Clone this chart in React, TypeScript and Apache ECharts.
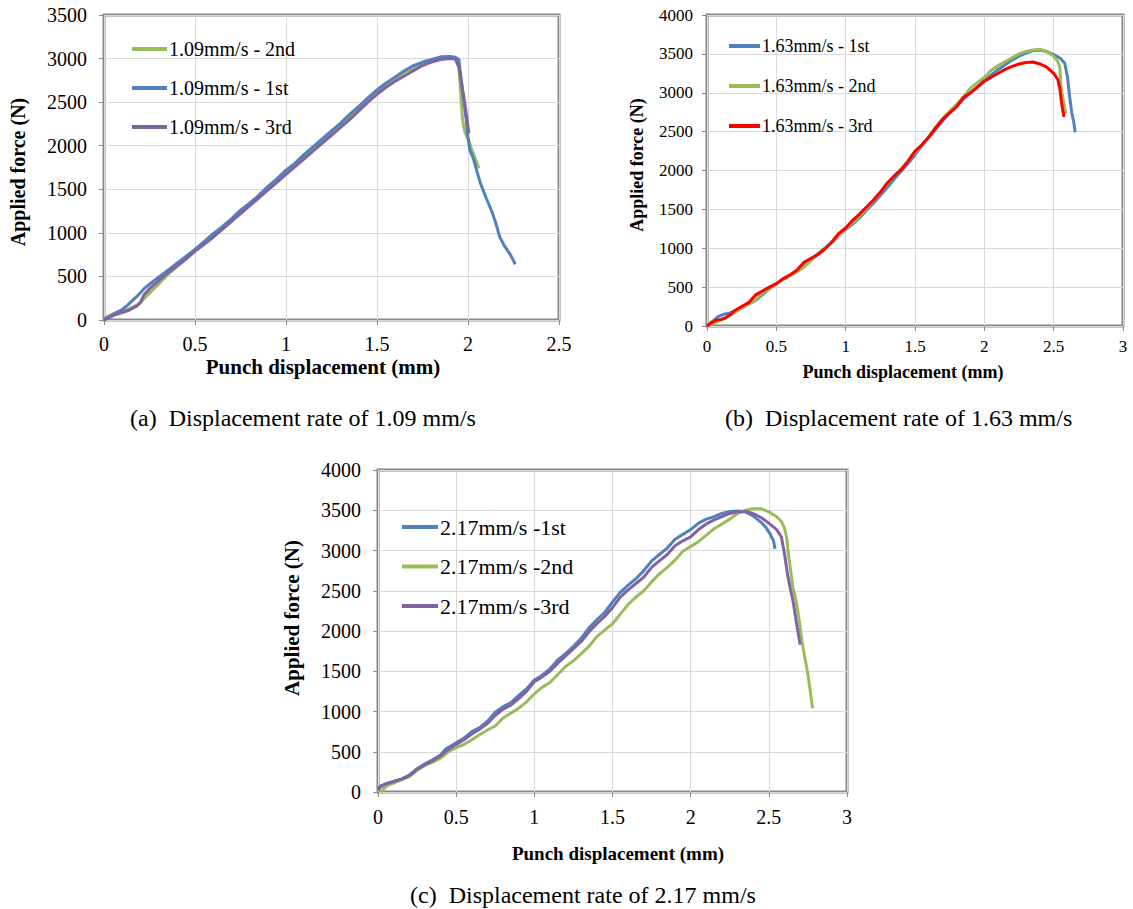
import React, { useEffect, useRef } from "react";
import * as echarts from "echarts";

// ---------- Data (x: punch displacement in mm, y: applied force in N) ----------
const xTicksA = [0, 0.5, 1, 1.5, 2, 2.5];
const xTicksBC = [0, 0.5, 1, 1.5, 2, 2.5, 3];
const yTicksA = [0, 500, 1000, 1500, 2000, 2500, 3000, 3500];
const yTicksBC = [0, 500, 1000, 1500, 2000, 2500, 3000, 3500, 4000];

// (a) 1.09 mm/s
const a2nd: number[][] = [
  [0, 20], [0.03, 50], [0.06, 75], [0.1, 100], [0.14, 130], [0.18, 170], [0.21, 220], [0.25, 310],
  [0.3, 410], [0.35, 520], [0.4, 610], [0.45, 700], [0.5, 790], [0.55, 870], [0.6, 960], [0.65, 1050],
  [0.7, 1140], [0.75, 1230], [0.8, 1330], [0.85, 1410], [0.9, 1510], [0.95, 1600], [1.0, 1690],
  [1.05, 1780], [1.1, 1870], [1.15, 1960], [1.2, 2060], [1.25, 2150], [1.3, 2240], [1.35, 2330],
  [1.4, 2430], [1.45, 2520], [1.5, 2620], [1.55, 2690], [1.6, 2770], [1.65, 2840], [1.7, 2890],
  [1.75, 2940], [1.8, 2980], [1.85, 3000], [1.9, 3010], [1.935, 3005], [1.95, 2900], [1.96, 2600],
  [1.97, 2300], [1.98, 2180], [1.99, 2120], [2.0, 2080], [2.02, 1960], [2.04, 1850], [2.06, 1740],
];
const a1st: number[][] = [
  [0, 0], [0.03, 40], [0.06, 80], [0.1, 120], [0.13, 170], [0.16, 230], [0.19, 290], [0.22, 360],
  [0.25, 410], [0.3, 490], [0.35, 570], [0.4, 650], [0.45, 730], [0.5, 810], [0.55, 900], [0.6, 990],
  [0.65, 1070], [0.7, 1160], [0.75, 1260], [0.8, 1340], [0.85, 1430], [0.9, 1530], [0.95, 1620],
  [1.0, 1720], [1.05, 1800], [1.1, 1900], [1.15, 1990], [1.2, 2080], [1.25, 2170], [1.3, 2260],
  [1.35, 2360], [1.4, 2450], [1.45, 2550], [1.5, 2640], [1.55, 2720], [1.6, 2790], [1.65, 2860],
  [1.7, 2920], [1.75, 2960], [1.8, 2990], [1.85, 3020], [1.9, 3025], [1.93, 3015], [1.95, 2990],
  [1.96, 2800], [1.975, 2550], [1.99, 2300], [2.0, 2100], [2.01, 1950], [2.03, 1850], [2.047, 1720],
  [2.07, 1560], [2.1, 1400], [2.13, 1250], [2.15, 1130], [2.175, 950], [2.2, 850], [2.23, 760], [2.26, 640],
];
const a3rd: number[][] = [
  [0, 0], [0.03, 30], [0.06, 60], [0.1, 85], [0.14, 115], [0.18, 160], [0.2, 200], [0.22, 290],
  [0.25, 360], [0.3, 450], [0.35, 540], [0.4, 620], [0.45, 700], [0.5, 790], [0.55, 870], [0.6, 950],
  [0.65, 1040], [0.7, 1130], [0.75, 1220], [0.8, 1310], [0.85, 1400], [0.9, 1490], [0.95, 1580],
  [1.0, 1670], [1.05, 1760], [1.1, 1850], [1.15, 1940], [1.2, 2030], [1.25, 2120], [1.3, 2210],
  [1.35, 2300], [1.4, 2400], [1.45, 2500], [1.5, 2590], [1.55, 2670], [1.6, 2740], [1.65, 2800],
  [1.7, 2860], [1.75, 2920], [1.8, 2960], [1.85, 2990], [1.9, 3000], [1.93, 2995], [1.95, 2900],
  [1.97, 2650], [1.985, 2450], [1.995, 2300], [2.005, 2140],
];

// (b) 1.63 mm/s
const b1st: number[][] = [
  [0, 0], [0.04, 60], [0.08, 120], [0.12, 150], [0.16, 165], [0.2, 190], [0.25, 230], [0.3, 280],
  [0.35, 330], [0.4, 400], [0.45, 480], [0.5, 540], [0.55, 600], [0.6, 650], [0.65, 700], [0.7, 770],
  [0.75, 850], [0.8, 930], [0.85, 1000], [0.9, 1080], [0.95, 1160], [1.0, 1240], [1.05, 1310],
  [1.1, 1390], [1.15, 1490], [1.2, 1580], [1.25, 1680], [1.3, 1780], [1.35, 1890], [1.4, 1990],
  [1.45, 2090], [1.5, 2200], [1.55, 2320], [1.6, 2430], [1.65, 2530], [1.7, 2640], [1.75, 2740],
  [1.8, 2830], [1.85, 2920], [1.9, 3000], [1.95, 3080], [2.0, 3160], [2.05, 3230], [2.1, 3300],
  [2.15, 3360], [2.2, 3420], [2.25, 3470], [2.3, 3510], [2.35, 3540], [2.4, 3550], [2.45, 3530],
  [2.5, 3490], [2.55, 3440], [2.58, 3380], [2.6, 3200], [2.615, 2950], [2.63, 2750], [2.645, 2620], [2.655, 2490],
];
const b2nd: number[][] = [
  [0, 0], [0.05, 30], [0.1, 75], [0.15, 120], [0.2, 175], [0.25, 230], [0.3, 280], [0.35, 340],
  [0.4, 420], [0.45, 480], [0.5, 540], [0.55, 600], [0.6, 650], [0.65, 700], [0.7, 760], [0.75, 840],
  [0.8, 920], [0.85, 1000], [0.9, 1080], [0.95, 1160], [1.0, 1250], [1.05, 1330], [1.1, 1410],
  [1.15, 1510], [1.2, 1610], [1.25, 1720], [1.3, 1830], [1.35, 1930], [1.4, 2020], [1.45, 2120],
  [1.5, 2230], [1.55, 2330], [1.6, 2440], [1.65, 2560], [1.7, 2670], [1.75, 2760], [1.8, 2850],
  [1.85, 2950], [1.9, 3060], [1.95, 3130], [2.0, 3200], [2.05, 3290], [2.1, 3350], [2.15, 3400],
  [2.2, 3450], [2.25, 3500], [2.3, 3530], [2.35, 3550], [2.4, 3560], [2.45, 3530], [2.5, 3470],
  [2.53, 3400], [2.545, 3330], [2.55, 3130], [2.56, 3000], [2.57, 2900], [2.58, 2800], [2.59, 2730],
];
const b3rd: number[][] = [
  [0, 0], [0.03, 40], [0.06, 70], [0.1, 85], [0.13, 100], [0.17, 150], [0.2, 200], [0.25, 250],
  [0.3, 300], [0.35, 400], [0.4, 450], [0.45, 500], [0.5, 545], [0.55, 610], [0.6, 660], [0.65, 720],
  [0.7, 820], [0.75, 870], [0.8, 920], [0.85, 990], [0.9, 1080], [0.95, 1190], [1.0, 1260],
  [1.05, 1360], [1.1, 1440], [1.15, 1530], [1.2, 1620], [1.25, 1720], [1.3, 1840], [1.35, 1930],
  [1.4, 2010], [1.45, 2120], [1.5, 2250], [1.55, 2330], [1.6, 2430], [1.65, 2550], [1.7, 2660],
  [1.75, 2740], [1.8, 2820], [1.85, 2940], [1.9, 3000], [1.95, 3070], [2.0, 3150], [2.05, 3200],
  [2.1, 3250], [2.15, 3300], [2.2, 3340], [2.25, 3370], [2.3, 3390], [2.35, 3395], [2.4, 3370],
  [2.45, 3330], [2.5, 3250], [2.53, 3170], [2.545, 3050], [2.555, 2900], [2.565, 2780], [2.575, 2690],
];

// (c) 2.17 mm/s
const c1st: number[][] = [
  [0, 40], [0.02, 80], [0.05, 100], [0.1, 130], [0.15, 160], [0.2, 210], [0.25, 290], [0.3, 350],
  [0.35, 400], [0.4, 460], [0.43, 530], [0.5, 610], [0.55, 670], [0.6, 750], [0.65, 800], [0.7, 880],
  [0.75, 990], [0.8, 1060], [0.85, 1110], [0.9, 1200], [0.95, 1280], [1.0, 1390], [1.05, 1450],
  [1.1, 1530], [1.15, 1640], [1.2, 1720], [1.25, 1810], [1.3, 1910], [1.35, 2040], [1.4, 2140],
  [1.45, 2230], [1.5, 2360], [1.55, 2480], [1.6, 2570], [1.65, 2650], [1.7, 2750], [1.75, 2870],
  [1.8, 2950], [1.85, 3030], [1.9, 3140], [1.95, 3200], [2.0, 3260], [2.05, 3340], [2.1, 3390],
  [2.15, 3420], [2.2, 3460], [2.25, 3485], [2.3, 3490], [2.35, 3480], [2.4, 3430], [2.45, 3350],
  [2.48, 3290], [2.51, 3200], [2.53, 3120], [2.54, 3020],
];
const c2nd: number[][] = [
  [0.02, 0], [0.04, 50], [0.07, 90], [0.1, 110], [0.15, 150], [0.2, 190], [0.25, 270], [0.3, 330],
  [0.35, 370], [0.4, 420], [0.45, 500], [0.5, 550], [0.55, 590], [0.6, 650], [0.65, 710], [0.7, 770],
  [0.75, 820], [0.8, 920], [0.85, 980], [0.9, 1040], [0.95, 1120], [1.0, 1220], [1.05, 1300],
  [1.1, 1360], [1.15, 1460], [1.2, 1560], [1.25, 1630], [1.3, 1720], [1.35, 1810], [1.4, 1930],
  [1.45, 2010], [1.5, 2090], [1.55, 2210], [1.6, 2330], [1.65, 2420], [1.7, 2500], [1.75, 2610],
  [1.8, 2710], [1.85, 2790], [1.9, 2880], [1.95, 2990], [2.0, 3050], [2.05, 3110], [2.1, 3190],
  [2.15, 3270], [2.2, 3330], [2.25, 3390], [2.3, 3460], [2.35, 3500], [2.4, 3520], [2.45, 3520],
  [2.5, 3480], [2.55, 3420], [2.58, 3360], [2.6, 3280], [2.615, 3150], [2.625, 2950], [2.64, 2750],
  [2.655, 2530], [2.675, 2370], [2.695, 2120], [2.71, 1900], [2.72, 1780], [2.735, 1620], [2.75, 1460],
  [2.765, 1250], [2.78, 1040],
];
const c3rd: number[][] = [
  [0, 20], [0.02, 70], [0.05, 100], [0.1, 130], [0.15, 160], [0.2, 200], [0.25, 280], [0.3, 340],
  [0.35, 390], [0.4, 450], [0.45, 530], [0.5, 590], [0.55, 650], [0.6, 720], [0.65, 780], [0.7, 850],
  [0.75, 950], [0.8, 1030], [0.85, 1080], [0.9, 1160], [0.95, 1250], [1.0, 1370], [1.05, 1430],
  [1.1, 1500], [1.15, 1600], [1.2, 1690], [1.25, 1780], [1.3, 1870], [1.35, 1990], [1.4, 2090],
  [1.45, 2180], [1.5, 2290], [1.55, 2420], [1.6, 2510], [1.65, 2590], [1.7, 2670], [1.75, 2790],
  [1.8, 2870], [1.85, 2950], [1.9, 3060], [1.95, 3120], [2.0, 3170], [2.05, 3260], [2.1, 3330],
  [2.15, 3380], [2.2, 3420], [2.25, 3460], [2.3, 3480], [2.35, 3485], [2.4, 3460], [2.45, 3410],
  [2.5, 3340], [2.55, 3260], [2.58, 3170], [2.6, 2960], [2.62, 2700], [2.64, 2500], [2.655, 2370],
  [2.675, 2120], [2.69, 1950], [2.7, 1830],
];

const namesA = ["1.09mm/s - 2nd", "1.09mm/s - 1st", "1.09mm/s - 3rd"];
const namesB = ["1.63mm/s - 1st", "1.63mm/s - 2nd", "1.63mm/s - 3rd"];
const namesC = ["2.17mm/s -1st", "2.17mm/s -2nd", "2.17mm/s -3rd"];

const captionA = "(a)  Displacement rate of 1.09 mm/s";
const captionB = "(b)  Displacement rate of 1.63 mm/s";
const captionC = "(c)  Displacement rate of 2.17 mm/s";
const xTitle = "Punch displacement (mm)";
const yTitle = "Applied force (N)";

// ---------- Styles ----------
const SERIF = "'Liberation Serif', 'Times New Roman', serif";
const GREEN = "#9BBB59";
const BLUE = "#4F81BD";
const PURPLE = "#8064A2";
const RED = "#FF0000";
const FRAME = "#878787";
const GRID = "#d9d9d9";

function xAxis(gridIndex: number, ticks: number[], fontSize: number, margin: number) {
  return {
    type: "value",
    gridIndex,
    min: ticks[0],
    max: ticks[ticks.length - 1],
    interval: ticks[1] - ticks[0],
    axisLine: { show: false },
    axisTick: { show: true, length: 5, lineStyle: { color: FRAME, width: 1 } },
    axisLabel: {
      color: "#000",
      fontFamily: SERIF,
      fontSize,
      margin,
      showMinLabel: true,
      showMaxLabel: true,
      formatter: (v: number) => String(v),
    },
    splitLine: { show: true, lineStyle: { color: GRID, width: 1 } },
  };
}

function yAxis(gridIndex: number, ticks: number[], fontSize: number, margin: number) {
  return {
    type: "value",
    gridIndex,
    min: ticks[0],
    max: ticks[ticks.length - 1],
    interval: ticks[1] - ticks[0],
    axisLine: { show: false },
    axisTick: { show: true, length: 5, lineStyle: { color: FRAME, width: 1 } },
    axisLabel: {
      color: "#000",
      fontFamily: SERIF,
      fontSize,
      margin,
      showMinLabel: true,
      showMaxLabel: true,
      formatter: (v: number) => String(v),
    },
    splitLine: { show: true, lineStyle: { color: GRID, width: 1 } },
  };
}

function line(name: string, data: number[][], color: string, idx: number, width = 3) {
  return {
    type: "line",
    name,
    data,
    xAxisIndex: idx,
    yAxisIndex: idx,
    showSymbol: false,
    symbol: "none",
    color,
    lineStyle: { color, width },
    silent: true,
  };
}

function legend(
  names: string[], left: number, top: number, fontSize: number, w: number, gap: number, lh: number
) {
  return {
    data: names,
    orient: "vertical",
    left,
    top,
    padding: 0,
    itemGap: gap,
    itemWidth: w,
    itemHeight: 4,
    icon: "rect",
    selectedMode: false,
    textStyle: { color: "#000", fontFamily: SERIF, fontSize, lineHeight: lh, padding: [0, 0, 0, -3] },
  };
}

function vText(text: string, x: number, y: number, fontSize: number) {
  return {
    type: "text",
    x,
    y,
    rotation: Math.PI / 2,
    style: {
      text,
      fill: "#000",
      font: `bold ${fontSize}px ${SERIF}`,
      textAlign: "center",
      textVerticalAlign: "middle",
    },
  };
}

function hText(text: string, x: number, y: number, fontSize: number, bold: boolean, align = "center") {
  return {
    type: "text",
    x,
    y,
    style: {
      text,
      fill: "#000",
      font: `${bold ? "bold " : ""}${fontSize}px ${SERIF}`,
      textAlign: align,
      textVerticalAlign: "middle",
    },
  };
}

export default function App() {
  const ref = useRef<HTMLDivElement>(null);

  useEffect(() => {
    if (!ref.current) return;
    const chart = echarts.init(ref.current, null, { renderer: "svg" });
    const gridStyle = { show: true, borderColor: FRAME, borderWidth: 3, backgroundColor: "transparent" };
    chart.setOption({
      animation: false,
      backgroundColor: "#fff",
      grid: [
        { ...gridStyle, left: 104, top: 15, width: 455, height: 305 },
        { ...gridStyle, left: 707, top: 15, width: 416, height: 311 },
        { ...gridStyle, left: 378, top: 470, width: 469, height: 322 },
      ],
      xAxis: [xAxis(0, xTicksA, 20, 14), xAxis(1, xTicksBC, 17, 12), xAxis(2, xTicksBC, 20, 15)],
      yAxis: [yAxis(0, yTicksA, 20, 17), yAxis(1, yTicksBC, 17, 14), yAxis(2, yTicksBC, 20, 17)],
      legend: [
        legend(namesA, 132, 39, 20, 35, 19, 20),
        legend(namesB, 729, 36, 18, 31, 20, 20),
        legend(namesC, 402, 516, 22, 36, 17.5, 22),
      ],
      series: [
        line(namesA[0], a2nd, GREEN, 0),
        line(namesA[1], a1st, BLUE, 0),
        line(namesA[2], a3rd, PURPLE, 0),
        line(namesB[0], b1st, BLUE, 1),
        line(namesB[1], b2nd, GREEN, 1),
        line(namesB[2], b3rd, RED, 1),
        line(namesC[0], c1st, BLUE, 2),
        line(namesC[1], c2nd, GREEN, 2),
        line(namesC[2], c3rd, PURPLE, 2),
      ],
      graphic: [
        vText(yTitle, 18, 172, 20),
        vText(yTitle, 637, 165, 18),
        vText(yTitle, 292, 618, 21),
        hText(xTitle, 323, 367, 21, true),
        hText(xTitle, 903, 372, 18, true),
        hText(xTitle, 618, 853, 19, true),
        hText(captionA, 130, 418, 24, false, "left"),
        hText(captionB, 725, 418, 24, false, "left"),
        hText(captionC, 410, 895, 24, false, "left"),
      ],
    });
    return () => chart.dispose();
  }, []);

  return (
    <div
      ref={ref}
      style={{ position: "absolute", left: 0, top: 0, width: 1133, height: 909, background: "#fff" }}
    />
  );
}
